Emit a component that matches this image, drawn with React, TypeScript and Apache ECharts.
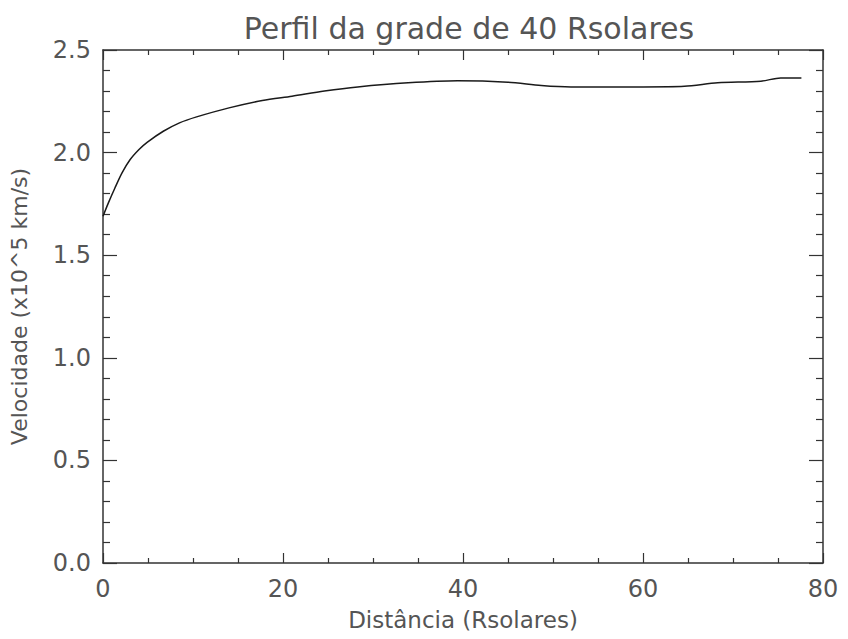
import React, { useEffect, useRef } from "react";
import * as echarts from "echarts";

const distance = [0, 0.6, 1.3, 2.1, 3.0, 4.0, 4.9, 6.7, 8.5, 10.4, 14, 17.7, 21, 24.6, 28.3, 33.9, 39.4, 45, 48.7, 52, 56, 60, 64.6, 68.3, 73.1, 75.3, 77.6];
const velocity = [1.69, 1.755, 1.825, 1.9, 1.965, 2.015, 2.05, 2.104, 2.145, 2.174, 2.218, 2.254, 2.275, 2.3, 2.32, 2.34, 2.35, 2.343, 2.327, 2.32, 2.32, 2.32, 2.323, 2.34, 2.348, 2.364, 2.364];
const xTicks = [0, 20, 40, 60, 80];
const yTicks = [0, 0.5, 1.0, 1.5, 2.0, 2.5];

const FONT = "DejaVu Sans";
const TXT = "#555";
const AX = "#333";

export default function App() {
  const ref = useRef<HTMLDivElement>(null);
  useEffect(() => {
    if (!ref.current) return;
    const chart = echarts.init(ref.current, undefined, { renderer: "svg" });
    const axisCommon = {
      axisLine: { show: true, onZero: false, lineStyle: { color: AX, width: 1.5 } },
      splitLine: { show: false },
    };
    chart.setOption({
      animation: false,
      backgroundColor: "#fff",
      title: {
        text: "Perfil da grade de 40 Rsolares",
        left: 464,
        textAlign: "center",
        top: 8,
        textStyle: { fontFamily: FONT, fontSize: 30, fontWeight: "normal", color: TXT },
      },
      grid: { left: 101, right: 25, top: 50, bottom: 76, containLabel: false },
      xAxis: [
        {
          type: "value",
          min: xTicks[0],
          max: xTicks[xTicks.length - 1],
          interval: 20,
          position: "bottom",
          name: "Distância (Rsolares)",
          nameLocation: "middle",
          nameGap: 45,
          nameTextStyle: { fontFamily: FONT, fontSize: 23, color: TXT },
          axisLabel: { fontFamily: FONT, fontSize: 24, color: TXT, margin: 14 },
          axisTick: { show: true, inside: true, length: 10, lineStyle: { color: AX, width: 1.2 } },
          minorTick: { show: true, splitNumber: 4, length: 5, lineStyle: { color: AX, width: 1.2 } },
          ...axisCommon,
        },
        {
          type: "value",
          min: xTicks[0],
          max: xTicks[xTicks.length - 1],
          interval: 20,
          position: "top",
          axisLabel: { show: false },
          axisTick: { show: true, inside: true, length: 10, lineStyle: { color: AX, width: 1.2 } },
          minorTick: { show: true, splitNumber: 4, length: 5, lineStyle: { color: AX, width: 1.2 } },
          ...axisCommon,
        },
      ],
      yAxis: [
        {
          type: "value",
          min: yTicks[0],
          max: yTicks[yTicks.length - 1],
          interval: 0.5,
          position: "left",
          name: "Velocidade (x10^5 km/s)",
          nameLocation: "middle",
          nameGap: 73,
          nameTextStyle: { fontFamily: FONT, fontSize: 22, color: TXT },
          axisLabel: {
            fontFamily: FONT,
            fontSize: 24,
            color: TXT,
            margin: 12,
            formatter: (v: number) => v.toFixed(1),
          },
          axisTick: { show: true, inside: true, length: 14, lineStyle: { color: AX, width: 1.2 } },
          minorTick: { show: true, splitNumber: 5, length: 7, lineStyle: { color: AX, width: 1.2 } },
          ...axisCommon,
        },
        {
          type: "value",
          min: yTicks[0],
          max: yTicks[yTicks.length - 1],
          interval: 0.5,
          position: "right",
          axisLabel: { show: false },
          axisTick: { show: true, inside: true, length: 14, lineStyle: { color: AX, width: 1.2 } },
          minorTick: { show: true, splitNumber: 5, length: 7, lineStyle: { color: AX, width: 1.2 } },
          ...axisCommon,
        },
      ],
      series: [
        {
          type: "line",
          xAxisIndex: 0,
          yAxisIndex: 0,
          data: distance.map((d, i) => [d, velocity[i]]),
          showSymbol: false,
          smooth: 0.3,
          lineStyle: { color: "#1a1a1a", width: 1.5 },
        },
      ],
    });
    return () => chart.dispose();
  }, []);
  return <div ref={ref} style={{ width: 848, height: 639, position: "absolute", left: 0, top: 0 }} />;
}
